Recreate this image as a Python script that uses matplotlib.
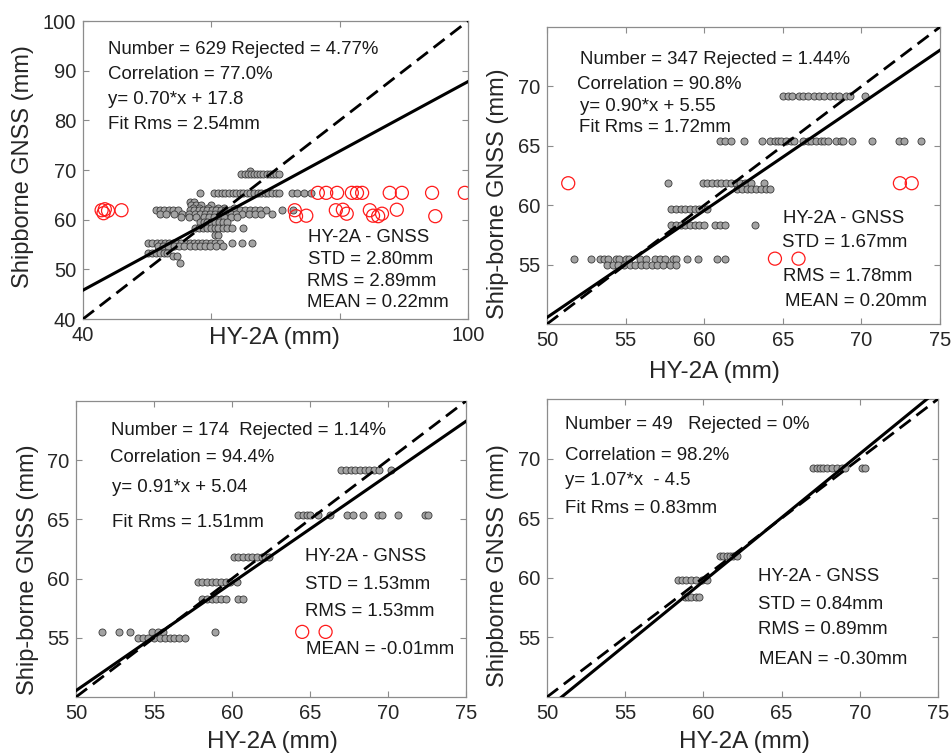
import numpy as np
import matplotlib
matplotlib.use("Agg")
import matplotlib.pyplot as plt

plt.rcParams['font.family'] = ['Liberation Sans', 'DejaVu Sans']

# ---- panel 1 (all data) ----
p1_rows = {
    69.8: [66.0],
    69.2: [64.7, 65.2, 65.7, 66.2, 66.6, 67.1, 67.6, 68.1, 68.6, 69.1, 69.6, 70.1, 70.5],
    65.4: [58.3, 60.4, 61.0, 61.6, 62.2, 62.8, 63.3, 63.9, 64.5, 65.0, 65.6, 66.1, 66.7,
           67.2, 67.8, 68.3, 68.9, 69.4, 70.0, 70.6, 72.6, 73.4, 74.4, 75.5],
    63.6: [56.7, 57.3],
    63.0: [56.9, 57.6, 58.4, 60.0],
    62.4: [57.2, 58.0, 59.5, 61.0, 62.0, 63.5],
    62.0: [51.3, 52.0, 52.6, 53.4, 54.0, 54.8, 56.6, 57.3, 58.0, 58.7, 59.4, 60.1, 60.8,
           61.5, 62.2, 62.9, 63.6, 64.5, 65.3, 66.0, 66.8, 67.6, 68.5, 71.0, 72.8],
    61.1: [52.0, 53.0, 54.2, 55.5, 56.5, 57.4, 58.2, 59.0, 59.8, 60.6, 61.4, 62.2, 63.0,
           63.8, 64.8, 65.8, 66.8, 67.8, 69.4],
    60.5: [55.3, 56.5, 57.6, 58.8, 59.6, 60.4, 61.2, 62.0, 63.0, 64.0],
    59.6: [58.2, 58.8, 59.4, 60.0, 60.6, 61.2, 61.8, 62.4],
    58.3: [57.5, 58.1, 58.7, 59.3, 59.9, 60.5, 61.1, 61.8, 62.5, 63.2, 64.9],
    57.0: [60.5, 61.0],
    55.4: [50.2, 50.8, 51.5, 52.1, 52.8, 53.4, 54.0, 54.7, 55.3, 56.0, 56.6, 57.3, 57.9,
           58.6, 59.2, 59.9, 60.6, 61.4, 63.2, 64.8, 66.3],
    54.7: [51.7, 52.5, 53.3, 54.2, 55.0, 55.8, 56.6, 57.4, 58.2, 59.0, 59.8, 60.8, 61.8],
    53.3: [50.2, 50.8, 51.4, 52.0, 52.6, 53.1],
    52.7: [54.0, 54.6],
    51.3: [55.1],
}
p1_red_x = [42.9, 43.2, 43.4, 43.9, 46.0,
            76.6, 77.9, 79.6, 81.9, 82.7, 83.5, 87.8, 89.7, 94.4, 99.5,
            73.0, 73.2, 74.8, 79.4, 80.5, 81.1, 84.7, 85.2, 86.0, 86.6, 88.9, 94.9]
p1_red_y = [61.9, 61.3, 62.1, 61.8, 61.9,
            65.4, 65.4, 65.4, 65.4, 65.4, 65.4, 65.4, 65.4, 65.4, 65.4,
            61.9, 60.7, 60.8, 61.9, 62.0, 61.2, 61.9, 60.8, 60.7, 61.2, 62.0, 60.7]

# ---- panel 2 ----
p2_rows = {
    69.2: [65.0, 65.3, 65.6, 66.0, 66.3, 66.6, 67.0, 67.3, 67.6, 68.0, 68.3, 68.6, 69.0, 69.3, 70.2],
    65.4: [61.0, 61.3, 61.7, 62.5, 63.7, 64.2, 64.5, 64.7, 64.9, 65.2, 65.5, 65.7, 66.3, 66.6,
           66.8, 67.1, 67.4, 67.6, 67.9, 68.4, 68.7, 68.8, 69.4, 70.7, 72.4, 72.7, 73.8],
    61.85: [57.7, 59.9, 60.2, 60.5, 60.8, 61.1, 61.4, 61.7, 62.0, 62.3, 62.6, 63.0, 63.8],
    61.4: [62.1, 62.4, 62.7, 63.0, 63.3, 63.6, 63.9, 64.2],
    59.7: [57.9, 58.2, 58.5, 58.8, 59.1, 59.4, 59.7, 60.2],
    58.3: [57.9, 58.2, 58.5, 58.8, 59.1, 59.4, 59.7, 60.0, 60.7, 61.0, 61.3, 63.2],
    55.5: [51.7, 52.8, 53.4, 53.6, 53.9, 54.4, 54.6, 55.0, 55.2, 55.9, 56.3, 56.9, 57.2, 57.5,
           58.0, 58.2, 58.9, 59.6, 60.8, 61.3],
    55.0: [53.8, 54.2, 54.5, 54.9, 55.3, 55.6, 56.0, 56.3, 56.7, 57.0, 57.4, 57.8, 58.2],
}
p2_red_x = [51.35, 72.45, 73.2, 64.5, 66.0]
p2_red_y = [61.85, 61.85, 61.85, 55.5, 55.5]

# ---- panel 3 ----
p3_rows = {
    69.17: [67.0, 67.3, 67.6, 67.9, 68.2, 68.5, 68.8, 69.1, 69.4, 70.2],
    65.37: [64.25, 64.57, 64.79, 65.0, 65.53, 66.28, 67.35, 67.77, 68.41, 69.38, 69.6,
            70.66, 72.37, 72.58],
    61.85: [60.1, 60.4, 60.7, 61.0, 61.3, 61.6, 61.9, 62.1, 62.4],
    59.74: [57.8, 58.1, 58.4, 58.7, 59.0, 59.3, 59.6, 59.9, 60.3],
    58.3: [58.1, 58.4, 58.7, 59.0, 59.3, 59.6, 60.4, 60.7],
    55.5: [51.65, 52.78, 53.46, 54.85, 55.28, 55.6, 58.9],
    55.0: [54.0, 54.3, 54.6, 55.0, 55.4, 55.7, 56.0, 56.3, 56.6, 57.0],
}
p3_red_x = [64.5, 66.0]
p3_red_y = [55.5, 55.5]

# ---- panel 4 ----
p4_rows = {
    69.19: [67.03, 67.24, 67.45, 67.67, 67.88, 68.2, 68.52, 68.84, 69.05, 70.12, 70.33],
    61.85: [61.06, 61.27, 61.49, 61.70, 61.92, 62.13],
    59.8: [58.4, 58.6, 58.9, 59.2, 59.5, 59.9, 60.2],
    58.36: [58.8, 59.0, 59.2, 59.5, 59.7],
}
p4_red_x = []
p4_red_y = []

fits = [(0.70, 17.8), (0.90, 5.55), (0.91, 5.04), (1.07, -4.5)]

stats_top = [
    ["Number = 629 Rejected = 4.77%", "Correlation = 77.0%", "y= 0.70*x + 17.8", "Fit Rms = 2.54mm"],
    ["Number = 347 Rejected = 1.44%", "Correlation = 90.8%", "y= 0.90*x + 5.55", "Fit Rms = 1.72mm"],
    ["Number = 174  Rejected = 1.14%", "Correlation = 94.4%", "y= 0.91*x + 5.04", "Fit Rms = 1.51mm"],
    ["Number = 49   Rejected = 0%", "Correlation = 98.2%", "y= 1.07*x  - 4.5", "Fit Rms = 0.83mm"],
]
stats_bottom = [
    ["HY-2A - GNSS", "STD = 2.80mm", "RMS = 2.89mm", "MEAN = 0.22mm"],
    ["HY-2A - GNSS", "STD = 1.67mm", "RMS = 1.78mm", "MEAN = 0.20mm"],
    ["HY-2A - GNSS", "STD = 1.53mm", "RMS = 1.53mm", "MEAN = -0.01mm"],
    ["HY-2A - GNSS", "STD = 0.84mm", "RMS = 0.89mm", "MEAN = -0.30mm"],
]
ylabels = ["Shipborne GNSS (mm)", "Ship-borne GNSS (mm)", "Ship-borne GNSS (mm)", "Shipborne GNSS (mm)"]

# layout (pixel boxes of the axes: left, top, right, bottom)
W, H = 951, 754
boxes = [(83, 21, 468, 319), (547, 27, 940, 324), (76, 401, 466, 697), (547, 399, 938, 697)]
lims = [(40, 100), (50, 75), (50, 75), (50, 75)]
xticks = [[40, 60, 80, 100], [50, 55, 60, 65, 70, 75], [50, 55, 60, 65, 70, 75], [50, 55, 60, 65, 70, 75]]
yticks = [[40, 50, 60, 70, 80, 90, 100], [55, 60, 65, 70], [55, 60, 65, 70], [55, 60, 65, 70]]
top_pos = [
    [(0.065, 0.903), (0.065, 0.819), (0.065, 0.735), (0.065, 0.654)],
    [(0.084, 0.889), (0.077, 0.808), (0.084, 0.734), (0.082, 0.663)],
    [(0.090, 0.902), (0.087, 0.808), (0.093, 0.707), (0.092, 0.589)],
    [(0.046, 0.913), (0.046, 0.812), (0.046, 0.728), (0.046, 0.633)],
]
bot_pos = [
    [(0.584, 0.272), (0.584, 0.198), (0.583, 0.125), (0.583, 0.054)],
    [(0.601, 0.354), (0.597, 0.274), (0.601, 0.159), (0.605, 0.077)],
    [(0.587, 0.476), (0.587, 0.381), (0.587, 0.288), (0.591, 0.159)],
    [(0.540, 0.404), (0.540, 0.312), (0.540, 0.225), (0.542, 0.127)],
]
xlab_pos = [(0.496, -0.064), (0.427, -0.16), (0.503, -0.152), (0.506, -0.151)]
ylab_pos = [(-0.156, 0.51), (-0.125, 0.44), (-0.123, 0.43), (-0.125, 0.44)]

all_rows = [p1_rows, p2_rows, p3_rows, p4_rows]
all_red = [(p1_red_x, p1_red_y), (p2_red_x, p2_red_y), (p3_red_x, p3_red_y), (p4_red_x, p4_red_y)]

fig = plt.figure(figsize=(W / 100, H / 100), dpi=100)

for i in range(4):
    l, t, r, b = boxes[i]
    ax = fig.add_axes([l / W, 1 - b / H, (r - l) / W, (b - t) / H])
    lo, hi = lims[i]

    gx, gy = [], []
    for yv, xs in all_rows[i].items():
        gx += xs
        gy += [yv] * len(xs)
    ax.scatter(gx, gy, s=26, c='#a3a3a3', edgecolors='#3a3a3a', linewidths=0.6, zorder=2)
    rx, ry = all_red[i]
    if rx:
        ax.scatter(rx, ry, s=88, facecolors='none', edgecolors='#ff1a1a', linewidths=0.9, zorder=3)

    xx = np.array([lo, hi])
    ax.plot(xx, xx, color='black', lw=2.0, dashes=(5, 2.6), zorder=4)
    k, c0 = fits[i]
    ax.plot(xx, k * xx + c0, color='black', lw=2.2, zorder=4)

    ax.set_xlim(lo, hi)
    ax.set_ylim(lo, hi)
    ax.set_xticks(xticks[i])
    ax.set_yticks(yticks[i])
    if i == 0:
        ax.set_xticklabels(['40', '', '', '100'])
    ax.tick_params(direction='in', length=4, width=0.8, top=True, right=True,
                   labelsize=14.5, colors='#8c8c8c', labelcolor='#262626', pad=5)
    for sp in ax.spines.values():
        sp.set_color('#8c8c8c')
        sp.set_linewidth(0.9)

    ax.set_xlabel("HY-2A (mm)", fontsize=17.5, color='#262626')
    ax.xaxis.set_label_coords(*xlab_pos[i])
    ax.xaxis.label.set_verticalalignment('center')
    ax.set_ylabel(ylabels[i], fontsize=17, color='#262626')
    ax.yaxis.set_label_coords(*ylab_pos[i])
    ax.yaxis.label.set_verticalalignment('center')

    for s, (px, py) in zip(stats_top[i], top_pos[i]):
        ax.text(px, py, s, transform=ax.transAxes, fontsize=13.4, va='center', ha='left',
                color='#1a1a1a', zorder=5)
    for s, (px, py) in zip(stats_bottom[i], bot_pos[i]):
        ax.text(px, py, s, transform=ax.transAxes, fontsize=13.4, va='center', ha='left',
                color='#1a1a1a', zorder=5)

fig.savefig("out.png", dpi=100)
